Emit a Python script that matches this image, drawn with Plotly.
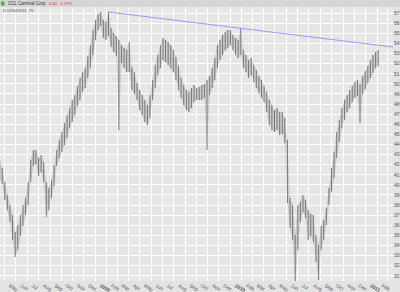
import plotly.graph_objects as go
import pandas as pd

# weekly high / low prices
highs = [42.46, 41.67, 40.28, 38.99, 38.00, 37.01, 35.33, 36.02, 37.01, 38.00,
         38.70, 40.28, 42.46, 43.45, 43.45, 42.66, 42.95, 42.26, 40.28, 39.69,
         40.48, 41.96, 43.45, 44.44, 45.23, 46.12, 46.91, 47.61, 48.40, 48.89,
         49.79, 50.58, 51.17, 51.57, 52.76, 53.84, 55.33, 56.32, 56.91, 57.11,
         56.32, 56.12, 57.11, 55.53, 55.03, 54.74, 54.34, 53.84, 53.55, 53.35,
         54.14, 51.67, 51.17, 50.08, 49.39, 48.89, 48.40, 47.90, 48.89, 50.38,
         51.86, 52.85, 53.84, 54.54, 54.34, 54.14, 53.84, 53.35, 52.66, 51.77,
         50.58, 49.88, 49.39, 49.19, 49.59, 49.88, 49.59, 49.69, 49.88, 49.98,
         50.38, 50.78, 51.57, 52.56, 53.84, 54.34, 54.83, 55.13, 55.33, 55.33,
         54.83, 54.54, 54.34, 55.53, 53.35, 52.85, 52.36, 52.56, 51.86, 51.37,
         50.78, 50.38, 49.79, 49.19, 48.40, 47.90, 47.41, 47.61, 47.21, 47.21,
         46.62, 44.44, 38.70, 38.00, 35.03, 38.00, 38.30, 38.99, 38.50, 37.51,
         37.11, 37.01, 35.03, 34.04, 35.93, 36.52, 37.71, 39.69, 41.67, 43.25,
         45.23, 46.42, 47.61, 48.40, 48.89, 49.39, 49.79, 50.18, 50.38, 49.98,
         50.78, 51.27, 51.77, 52.36, 52.85, 53.15, 53.35]
lows = [40.68, 40.08, 38.50, 37.51, 36.32, 34.54, 32.86, 33.55, 34.94, 35.93,
        37.01, 38.00, 40.28, 41.87, 42.06, 40.88, 41.27, 40.28, 36.82, 37.51,
        38.70, 39.89, 41.87, 42.66, 43.25, 43.94, 44.64, 45.63, 46.22, 46.91,
        47.81, 48.40, 49.19, 49.59, 50.58, 51.57, 52.85, 54.34, 55.33, 55.73,
        54.54, 54.34, 54.74, 53.65, 53.15, 52.76, 45.43, 52.06, 51.57, 51.17,
        51.17, 49.39, 48.99, 48.40, 47.41, 46.91, 46.22, 45.92, 46.62, 48.40,
        49.59, 50.87, 51.57, 52.36, 52.16, 51.86, 51.57, 51.17, 50.38, 49.39,
        48.60, 47.90, 47.41, 47.21, 47.61, 48.20, 48.40, 48.40, 48.40, 48.60,
        43.45, 48.89, 49.59, 50.38, 51.57, 52.36, 52.85, 53.35, 53.55, 53.84,
        53.35, 52.85, 52.56, 52.85, 51.57, 51.17, 50.58, 50.87, 50.18, 49.59,
        49.09, 48.60, 48.20, 47.21, 45.92, 45.43, 45.23, 45.43, 44.93, 45.03,
        44.14, 38.20, 35.73, 34.54, 30.28, 33.55, 36.32, 37.31, 36.72, 34.54,
        34.94, 34.34, 32.36, 30.58, 33.55, 34.54, 36.02, 38.00, 39.29, 40.68,
        42.66, 44.24, 45.63, 46.42, 47.21, 47.61, 48.20, 48.60, 48.80, 46.12,
        48.99, 49.49, 50.08, 50.58, 51.07, 51.57, 51.77]
start_date = "2008-04-18"

trend_dates = ["2009-02-06", "2011-03-16"]
trend_prices = [57.11, 53.65]

month_labels = ["May", "Jun", "Jul", "Aug", "Sep", "Oct", "Nov", "Dec",
                "2009", "Feb", "Mar", "Apr", "May", "Jun", "Jul", "Aug", "Sep", "Oct", "Nov", "Dec",
                "2010", "Feb", "Mar", "Apr", "May", "Jun", "Jul", "Aug", "Sep", "Oct", "Nov", "Dec",
                "2011", "Feb", "Mar"]
price_ticks = list(range(31, 58))

header_name = "CCL Carnival Corp"
header_change = "-0.62  -1.17%"
header_sub = "D 02/04/2011  75"

dates = pd.date_range(start_date, periods=len(highs), freq="7D")
xs, ys = [], []
for d, h, l in zip(dates, highs, lows):
    xs += [d, d, None]
    ys += [l, h, None]

month_starts = pd.date_range("2008-05-01", periods=len(month_labels), freq="MS")
mid_months = [m + pd.Timedelta(days=14) for m in month_starts]
tick_text = [("<b>%s</b>" % t) if t.isdigit() else t for t in month_labels]

fig = go.Figure()
# soft band between weekly lows and highs (gives the dense look of daily bars)
fig.add_trace(go.Scatter(x=list(dates), y=lows, mode="lines", line=dict(width=0, color="rgba(0,0,0,0)"),
                         hoverinfo="skip"))
fig.add_trace(go.Scatter(x=list(dates), y=highs, mode="lines", line=dict(width=0, color="rgba(0,0,0,0)"),
                         fill="tonexty", fillcolor="rgba(130,130,130,0.28)", hoverinfo="skip"))
fig.add_trace(go.Scatter(x=xs, y=ys, mode="lines",
                         line=dict(color="#7a7a7a", width=1), hoverinfo="skip"))
fig.add_trace(go.Scatter(x=trend_dates, y=trend_prices, mode="lines",
                         line=dict(color="#a595f2", width=1), hoverinfo="skip"))

W, H = 400, 292
ml, mr, mt, mb = 0, 7, 7, 11
pw, ph = W - ml - mr, H - mt - mb

def px_x(px):
    return (px - ml) / pw

def px_y(py):
    return (H - mb - py) / ph

fig.update_layout(
    width=W, height=H, margin=dict(l=ml, r=mr, t=mt, b=mb, pad=0),
    paper_bgcolor="#e3e3e3", plot_bgcolor="#e6e6e6", showlegend=False,
    font=dict(family="Arial, Liberation Sans, sans-serif", size=5, color="#555"),
    xaxis=dict(type="date", range=["2008-04-19", "2011-03-16"],
               tickmode="array", tickvals=mid_months, ticktext=tick_text,
               showgrid=False, zeroline=False, showline=False, ticks="",
               tickfont=dict(size=5, color="#555"), automargin=False,
               minor=dict(dtick="M1", tick0="2008-01-01", showgrid=True,
                          gridcolor="#ffffff", gridwidth=1)),
    yaxis=dict(side="right", range=[30.48, 57.61], tickmode="array",
               tickvals=price_ticks, ticktext=[str(v) for v in price_ticks],
               showgrid=True, gridcolor="#ffffff", gridwidth=1, zeroline=False,
               showline=False, ticks="", tickfont=dict(size=5, color="#555"),
               automargin=False),
    shapes=[
        dict(type="rect", xref="paper", yref="paper", x0=px_x(0), x1=px_x(400),
             y0=px_y(7), y1=px_y(0), fillcolor="#d5d5d5", line=dict(width=0), layer="above"),
        dict(type="rect", xref="paper", yref="paper", x0=px_x(1), x1=px_x(4.5),
             y0=px_y(5.5), y1=px_y(1.5), fillcolor="#4caf50", line=dict(width=0), layer="above"),
    ],
    annotations=[
        dict(text=header_name, xref="paper", yref="paper", x=px_x(6), y=px_y(3.6),
             xanchor="left", yanchor="middle", showarrow=False,
             font=dict(size=4.5, color="#333")),
        dict(text=header_change, xref="paper", yref="paper", x=px_x(46), y=px_y(3.6),
             xanchor="left", yanchor="middle", showarrow=False,
             font=dict(size=4, color="#e02020")),
        dict(text=header_sub, xref="paper", yref="paper", x=px_x(1), y=px_y(10.5),
             xanchor="left", yanchor="middle", showarrow=False,
             font=dict(size=4, color="#444")),
    ],
)

fig.write_html("out.html")
